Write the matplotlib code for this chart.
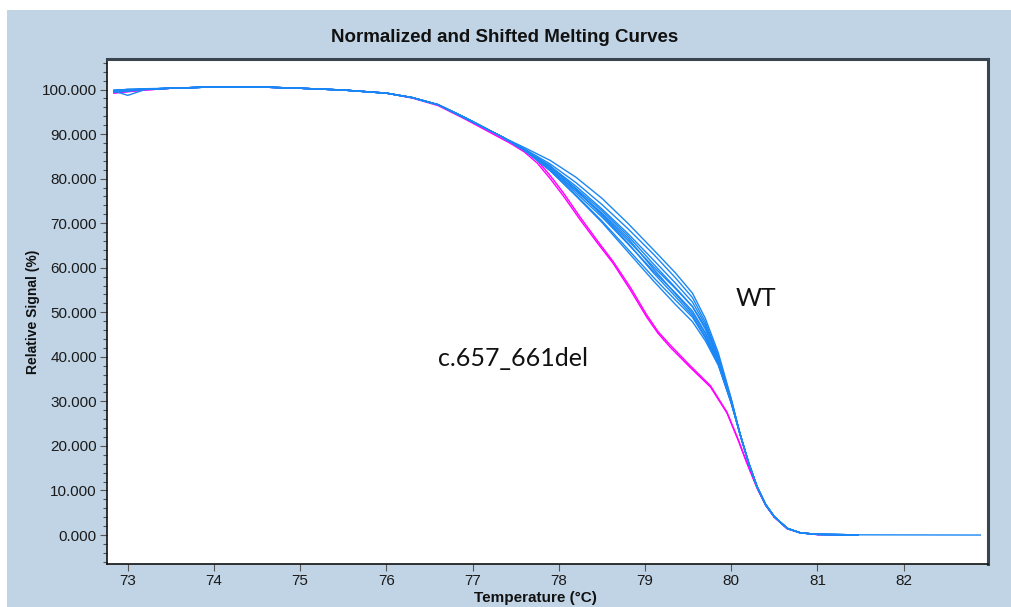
import numpy as np
import matplotlib
matplotlib.use("Agg")
import matplotlib.pyplot as plt
from matplotlib.patches import Rectangle
from matplotlib.ticker import MultipleLocator, FixedLocator
from matplotlib import font_manager

# =========================================================
# DATA
# =========================================================

# wild-type reference curve (temperature in degC, relative signal in %)
wt_temp = [72.84, 73.0, 73.2, 73.5, 74.0, 74.5, 75.0, 75.5, 76.0, 76.3,
           76.6, 76.9, 77.2, 77.35, 77.6, 77.9, 78.2, 78.5, 78.8, 79.1,
           79.35, 79.55, 79.7, 79.85, 80.0, 80.1, 80.2, 80.3, 80.4, 80.5,
           80.65, 80.8, 81.0, 81.47, 82.89]
wt_base = [99.7, 99.9, 100.1, 100.3, 100.6, 100.6, 100.3, 99.9, 99.2, 98.2,
           96.6, 93.8, 90.8, 89.3, 86.4, 82.3, 77.3, 72.0, 66.2, 60.2,
           55.4, 51.3, 46.2, 39.3, 30.0, 22.8, 16.3, 10.8, 6.8, 4.1,
           1.5, 0.5, 0.15, 0.05, 0.0]

# per-replicate deviation from the reference on the first three points
wt_head_dev = [
    [0.0, -1.2, -0.1],
    [-0.3, 0.0, 0.0],
    [0.2, 0.1, 0.0],
    [0.0, 0.0, 0.0],
    [-0.2, -0.3, 0.0],
    [0.1, 0.0, 0.1],
    [0.0, 0.2, 0.0],
    [-0.1, 0.0, 0.0],
    [0.0, -0.1, 0.0],
    [0.1, 0.1, 0.0],
]
# per-replicate deviation through the melt (77.6 .. 80.1 degC)
wt_mid_dev = [
    [0.6, 1.8, 3.0, 3.6, 3.8, 3.8, 3.5, 3.0, 2.4, 1.6, 0.6, 0.0],
    [0.3, 1.0, 1.8, 2.2, 2.6, 2.8, 2.4, 2.0, 1.6, 1.0, 0.4, 0.0],
    [0.0, 0.5, 1.0, 1.2, 1.5, 1.5, 1.2, 1.0, 1.0, 0.5, 0.2, 0.0],
    [0.0, 0.0, 0.0, 0.0, 0.0, 0.0, 0.0, 0.0, 0.0, 0.0, 0.0, 0.0],
    [0.0, -0.3, -0.5, -0.6, -0.8, -1.0, -1.0, -1.0, -0.8, -0.5, -0.2, 0.0],
    [0.0, -0.5, -1.0, -1.5, -2.0, -2.4, -2.6, -2.4, -2.0, -1.0, -0.4, 0.0],
    [0.0, -0.5, -1.2, -1.8, -2.6, -3.2, -3.6, -3.4, -2.6, -1.2, -0.4, 0.0],
    [0.0, 0.3, 0.5, 0.8, 1.0, 0.6, 0.2, 0.0, 0.5, 0.3, 0.1, 0.0],
    [0.0, -0.2, 0.0, 0.3, 0.5, -0.5, -1.2, -1.5, -1.0, -0.5, -0.2, 0.0],
    [0.2, 0.6, 0.4, -0.2, -0.6, -1.4, -1.8, -2.0, -1.6, -0.8, -0.3, 0.0],
]
wt_mid_start = 14          # index of 77.6 degC in wt_temp
wt_full_length = [False, False, False, True, False, False, False, False, False, False]

# c.657_661del curves
mut_temp = [72.84, 73.0, 73.2, 73.5, 74.0, 74.5, 75.0, 75.5, 76.0, 76.3,
            76.6, 76.9, 77.2, 77.45, 77.6, 77.75, 77.9, 78.05, 78.25, 78.45,
            78.63, 78.83, 79.02, 79.15, 79.29, 79.52, 79.76, 79.95, 80.08,
            80.18, 80.3, 80.4, 80.5, 80.65, 80.8, 81.0, 81.47]
mut_a = [99.2, 99.5, 99.9, 100.3, 100.6, 100.6, 100.3, 99.9, 99.2, 98.1,
         96.4, 93.5, 90.4, 87.8, 86.0, 83.5, 80.0, 76.2, 70.7, 65.5,
         61.0, 55.0, 48.9, 45.3, 42.2, 37.7, 33.2, 27.4, 21.3,
         16.2, 10.5, 6.6, 4.0, 1.4, 0.5, 0.1, 0.0]
mut_b = [99.3, 99.6, 99.9, 100.3, 100.6, 100.6, 100.3, 99.9, 99.2, 98.2,
         96.6, 93.8, 90.7, 88.2, 86.4, 84.1, 80.7, 76.9, 71.3, 66.0,
         61.4, 55.6, 49.4, 45.7, 42.7, 38.1, 33.5, 27.6, 21.5,
         16.3, 10.6, 6.7, 4.0, 1.4, 0.5, 0.1, 0.0]

x_ticks = [73, 74, 75, 76, 77, 78, 79, 80, 81, 82]
y_ticks = [0, 10, 20, 30, 40, 50, 60, 70, 80, 90, 100]

# =========================================================
# PLOT
# =========================================================

BG = "#c1d4e5"
BLUE = "#1a87f5"
MAGENTA = "#ff00ff"

installed = {f.name for f in font_manager.fontManager.ttflist}
NARROW = ["Liberation Sans Narrow", "DejaVu Sans"] \
    if "Liberation Sans Narrow" in installed else ["Liberation Sans", "DejaVu Sans"]

fig = plt.figure(figsize=(10.12, 6.07), dpi=100, facecolor="white")
# panel background with thin white margin on top / left
fig.patches.append(Rectangle((7 / 1012, 0), 1, 1 - 10 / 607,
                             transform=fig.transFigure, facecolor=BG,
                             edgecolor="none", zorder=-5))

ax = fig.add_axes([106.7 / 1012, (607 - 564) / 607,
                   (988 - 106.7) / 1012, (564 - 59.3) / 607])
ax.set_zorder(2)
ax.set_facecolor("white")

# mutant first so the wild-type bundle sits on top in the tail
ax.plot(mut_temp, mut_a, color=MAGENTA, lw=1.0, zorder=2)
ax.plot(mut_temp, mut_b, color=MAGENTA, lw=1.0, zorder=2)

base = np.asarray(wt_base, dtype=float)
for head, mid, full in zip(wt_head_dev, wt_mid_dev, wt_full_length):
    sig = base.copy()
    sig[:len(head)] += head
    sig[wt_mid_start:wt_mid_start + len(mid)] += mid
    n = len(wt_temp) if full else len(wt_temp) - 1
    ax.plot(wt_temp[:n], sig[:n], color=BLUE, lw=1.0, zorder=3)

ax.set_xlim(72.756, 82.978)
ax.set_ylim(-6.5, 106.8)

ax.xaxis.set_major_locator(FixedLocator(x_ticks))
ax.set_xticklabels([str(t) for t in x_ticks])
ax.yaxis.set_major_locator(FixedLocator(y_ticks))
ax.set_yticklabels([f"{t:.3f}" for t in y_ticks])
ax.yaxis.set_minor_locator(MultipleLocator(2))

ax.tick_params(axis="both", which="major", direction="out", length=5,
               width=0.8, color="#555555", labelcolor="#1a1a1a",
               labelsize=11, pad=2)
ax.tick_params(axis="y", which="minor", direction="out", length=3,
               width=0.8, color="#555555")
for lab in ax.get_xticklabels() + ax.get_yticklabels():
    lab.set_family(NARROW)

for side in ("left", "bottom"):
    ax.spines[side].set_color("#111111")
    ax.spines[side].set_linewidth(1.2)
for side in ("top", "right"):
    ax.spines[side].set_color("#3a4450")
    ax.spines[side].set_linewidth(2.2)

fig.text(505 / 1012, 1 - 38 / 607, "Normalized and Shifted Melting Curves",
         ha="center", va="center", fontsize=13.5, fontweight="bold",
         family=NARROW, color="#111111")
fig.text(33 / 1012, 1 - 312 / 607, "Relative Signal (%)", rotation=90,
         ha="center", va="center", fontsize=10, fontweight="bold",
         family=NARROW, color="#111111")
fig.text(535 / 1012, 1 - 598 / 607, "Temperature (°C)",
         ha="center", va="center", fontsize=11, fontweight="bold",
         family=NARROW, color="#111111")

ax.text(80.05, 53, "WT", ha="left", va="center", fontsize=18,
        family="Lato", color="#111111")
ax.text(76.6, 39.7, "c.657_661del", ha="left", va="center", fontsize=18,
        family="Lato", color="#111111")

fig.savefig("out.png", dpi=100, facecolor=fig.get_facecolor())
